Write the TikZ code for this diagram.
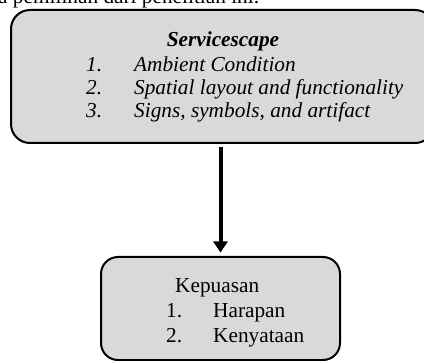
\documentclass[tikz,border=0pt]{standalone}
\usepackage{fontspec}
\setmainfont{Liberation Serif}
\usetikzlibrary{arrows.meta}
\definecolor{boxgray}{HTML}{D9D9D9}
\begin{document}
\begin{tikzpicture}[x=1pt,y=-1pt,
  box/.style={draw=black, line width=2pt, fill=boxgray, rounded corners=#1, inner sep=0pt},
  txt/.style={anchor=base west, inner sep=0pt, font=\fontsize{21.3}{24}\selectfont},
  ctxt/.style={anchor=base, inner sep=0pt, font=\fontsize{21.3}{24}\selectfont}]
\useasboundingbox (0,0) rectangle (424,361);
\clip (0,0) rectangle (424,361);
\node[txt] (above) at (-2,3.5) {a pemilihan dari penelitian ini.};
\node[box=19pt, minimum width=423pt, minimum height=133pt] (top) at (222.5,76.5) {};
\node[box=17pt, minimum width=239pt, minimum height=103pt] (bot) at (220.5,308.5) {};
\node[ctxt] (title) at (223,47) {\textbf{\textit{Servicescape}}};
\node[txt] (n1) at (86,72) {\textit{1.}};
\node[txt] (t1) at (134,72) {\textit{Ambient Condition}};
\node[txt] (n2) at (86,95) {\textit{2.}};
\node[txt] (t2) at (134,95) {\textit{Spatial layout and functionality}};
\node[txt] (n3) at (86,118) {\textit{3.}};
\node[txt] (t3) at (134,118) {\textit{Signs, symbols, and artifact}};
\node[txt] (k0) at (175,293) {Kepuasan};
\node[txt] (k1n) at (166,317) {1.};
\node[txt] (k1) at (213,317) {Harapan};
\node[txt] (k2n) at (166,342) {2.};
\node[txt] (k2) at (213,342) {Kenyataan};
\draw[line width=4pt, -{Triangle[width=14pt,length=11pt]}, shorten <=3.5pt, shorten >=3.5pt]
  (top.south -| bot.north) -- (bot.north);
\end{tikzpicture}
\end{document}
